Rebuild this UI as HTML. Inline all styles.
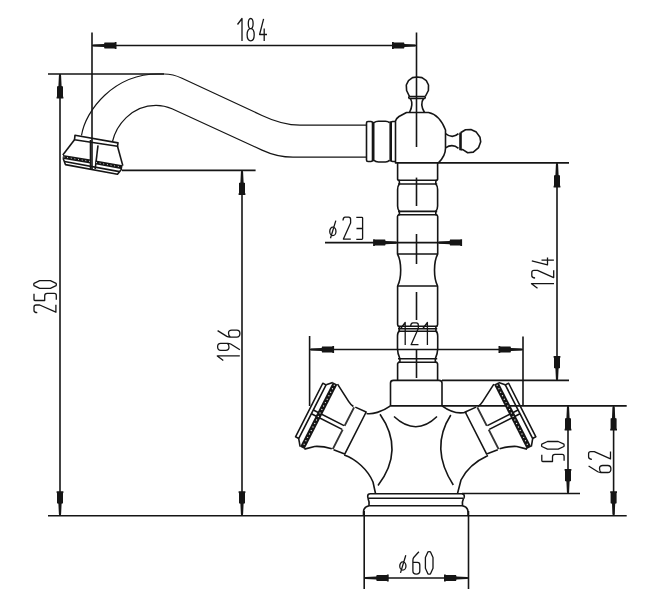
<!DOCTYPE html><html><head><meta charset="utf-8"><style>html,body{margin:0;padding:0;background:#fff;overflow:hidden;font-family:"Liberation Sans",sans-serif}svg{display:block}</style></head><body>
<svg width="659" height="600" viewBox="0 0 659 600">
<rect width="659" height="600" fill="#fff"/>
<g fill="none" stroke="#151515" stroke-width="1.6" stroke-linecap="butt" stroke-linejoin="round">
<path d="M92,45.5 H416.5"/>
<path d="M60,74 V515.8"/>
<path d="M242,170.4 V515.8"/>
<path d="M557,162.9 V380.4"/>
<path d="M325,242.6 H462"/>
<path d="M309.6,349.5 H523"/>
<path d="M568,405.9 V493.5"/>
<path d="M613.6,405.9 V515.8"/>
<path d="M364.2,578 H468.5"/>
<path d="M92,32.5 V170"/>
<path d="M48,74 H164"/>
<path d="M48,515.8 H626.7"/>
<path d="M122,170.4 H255.6"/>
<path d="M438.4,162.9 H569"/>
<path d="M442,380.4 H569"/>
<path d="M309.6,336 V406"/>
<path d="M523,336.4 V405"/>
<path d="M390.5,405.9 H626.7"/>
<path d="M462,493.5 H580"/>
<path d="M364.2,511 V589"/>
<path d="M468.5,511 V589"/>
<path d="M416.5,32.5 V147"/>
<path d="M416.5,177.6 V206"/>
<path d="M416.5,234 V264"/>
<path d="M416.5,292 V320"/>
<path d="M416.5,350 V378"/>
<g stroke-width="1.2"><path d="M81.5,135.5 C85.5,110 114,74 158,74 L164,74 Q173,74 182,78.2 L262,115.5 Q282.5,125.2 300,125.2 L366.5,125.2"/><path d="M112.5,141.5 C116,126 131,105.3 156,105.3 Q164.3,105.3 172,108.8 L262,150.1 Q277.4,157.2 293,157.2 L366.5,157.2"/></g>
<path d="M409.5,96.5 L406.6,90.5 L406.3,85 L408.5,80.6 L412.5,77.6 L417,77 L422,77.6 L426.3,80.6 L428.5,85 L428.4,90.5 L425.3,96.5"/>
<path d="M408.8,96.5 H425.2 M408.8,98.5 H425.2 M408.8,96.5 V98.5 M425.2,96.5 V98.5"/>
<path d="M410.5,98.5 Q413.6,104.5 409.5,112.5"/>
<path d="M423.5,98.5 Q419.6,104.5 424.5,112.5"/>
<path d="M395.5,162.9 V121 Q396,118.5 399,116.5 L406.5,112.5 H428.5 C436,114 442,121 445.5,130 V148.3 Q445.5,156 438.4,162.9 Z"/>
<path d="M445.5,133.7 Q452.5,139.1 458.5,133.7"/>
<path d="M445.5,147.8 Q452.5,143.2 458.5,148.3"/>
<path d="M460.5,132.8 L465.5,129.8 L470.9,129.6 L476.3,132.1 L480,137.3 L480.7,141.8 L478.6,147.6 L473.3,152.1 L467.7,152.7 L462.8,149.6 L460.5,149.8"/>
<path d="M368,121.5 H371 Q372.5,121.5 372.5,123 V160 Q372.5,161.5 371,161.5 H368 Q366.5,161.5 366.5,160 V123 Q366.5,121.5 368,121.5Z"/>
<path d="M374,122.8 Q375.5,121.3 378.5,121.3 H385.5 Q388,121.3 389.5,122.8"/>
<path d="M374,160.3 Q375.5,162 378.5,162 H385.5 Q388,162 389.5,160.3"/>
<path d="M392.5,121.5 H395.5 M392.5,161.5 H395.5 M392.5,121.5 Q391.2,121.5 391.2,123 V160 Q391.2,161.5 392.5,161.5"/>
<path d="M366.5,413.5 C372,414.5 382,412 390.5,405.9"/>
<path d="M442,405.9 C449,411 458,414.5 466.5,412"/>
<path d="M380,414.2 Q405,450 378,485.5"/>
<path d="M450.8,415 Q429.5,448 453.3,485"/>
<path d="M394,416.5 Q416,437 437,416.5"/>
<path d="M344.2,455 C356,459 368,470 373,482 L375.5,493.5"/>
<path d="M488,455.5 C476,461 466,470 461,480 L457.5,493.5"/>
<path d="M370.3,493.7 H461.5 Q464.3,493.7 464.3,496 Q464.3,498.3 463.5,498.3 M370.3,493.7 Q367.7,493.7 367.7,496 Q367.7,498.3 368.5,498.3"/>
<path d="M368,498.3 H463.5"/>
<path d="M368,498.3 Q369.5,501.5 369,505.7 H462.5 Q462,501.5 463.5,498.3"/>
<path d="M369,505.7 Q363.5,507 363.5,512 V516"/>
<path d="M462.5,505.7 Q468,507 468,512 V516"/>
<g stroke-width="1.6"><path d="M75,135.2 L118,142.9 L117.5,146.3 L74.5,139.8 Z"/><path d="M74.5,139.8 L62.8,155"/><path d="M117.5,146.3 L122.8,165.6"/><path d="M63.3,158.8 L65.4,164.6 L117.5,174.2 L121.7,169"/><path d="M64.5,161.5 L119.5,171.6"/><path d="M90.5,140 V169.5"/><path d="M98,145.3 L95.2,169"/></g>
<path d="M62.8,156.9 L90.5,161.5 M95.5,162.4 L122.3,167.3" stroke-width="4"/>
<path d="M63.5,156.9 L90,161.4 M96,162.5 L121.5,167.1" stroke="#fff" stroke-width="0.9" stroke-dasharray="0.9 2.8"/>
<path d="M397.6,162.9 V179 Q397.5,180.3 399,180.3 Q399.6,182 399.4,184 Q397.6,186 397.6,189.5 V206 Q397.6,209.5 399.4,211.4 V214.8 Q397.5,215 397.5,216.5 V254 Q400.7,260 400.7,270 Q400.7,280 397.6,286 V324.5 Q397.6,326.2 399.3,326.8 V331.2 Q397.5,332.2 397.5,336 V349 Q397.5,353 399.9,358.8 V362.3 Q397.6,362.3 397.6,364 V380.4"/>
<path d="M397.6,162.9 V179 Q397.5,180.3 399,180.3 Q399.6,182 399.4,184 Q397.6,186 397.6,189.5 V206 Q397.6,209.5 399.4,211.4 V214.8 Q397.5,215 397.5,216.5 V254 Q400.7,260 400.7,270 Q400.7,280 397.6,286 V324.5 Q397.6,326.2 399.3,326.8 V331.2 Q397.5,332.2 397.5,336 V349 Q397.5,353 399.9,358.8 V362.3 Q397.6,362.3 397.6,364 V380.4" transform="translate(835.2,0) scale(-1,1)"/>
<path d="M398,180.3 H437.2"/>
<path d="M398,184 H437.2"/>
<path d="M398,211.4 H437.2"/>
<path d="M398,214.8 H437.2"/>
<path d="M398,254 H437.2"/>
<path d="M398,286 H437.2"/>
<path d="M398,326.2 H437.2"/>
<path d="M398,328.8 H437.2"/>
<path d="M398,331.2 H437.2"/>
<path d="M398,358.8 H437.2"/>
<path d="M398,362.3 H437.2"/>
<path d="M390.5,405.9 V383 Q390.5,380.4 393.5,380.4 H439 Q442,380.4 442,383 V405.9"/>
<g transform="translate(310,411) rotate(27)"><path d="M-1.2,-30.5 H2.5 V29.5 H-1.2 Z"/><path d="M2.5,-30.8 L7.4,-35.7"/><path d="M2.5,29.8 L7.4,36.3"/><path d="M12.3,-36.5 L30.3,-25.9 Q33.5,-24 36.6,-23.7"/><path d="M12.3,36.5 L20.2,29.5 Q27,25.5 36.6,23.8"/><path d="M38.6,-24 L50.5,-24.6 V22.6 L38.6,23.8"/><path d="M2.5,-2.4 H37 M2.5,1.8 H37"/><path d="M9.9,-36 V36.3" stroke-width="5"/><path d="M9.9,-34.5 V35" stroke="#fff" stroke-width="1.1" stroke-dasharray="1.1 2.8"/><path d="M37.6,-23.3 V-2.4 M37.6,1.8 V23.6" stroke="#333" stroke-width="1.9"/></g>
<g transform="translate(831.4,0) scale(-1,1) translate(310,411) rotate(27)"><path d="M-1.2,-30.5 H2.5 V29.5 H-1.2 Z"/><path d="M2.5,-30.8 L7.4,-35.7"/><path d="M2.5,29.8 L7.4,36.3"/><path d="M12.3,-36.5 L30.3,-25.9 Q33.5,-24 36.6,-23.7"/><path d="M12.3,36.5 L20.2,29.5 Q27,25.5 36.6,23.8"/><path d="M38.6,-24 L50.5,-24.6 V22.6 L38.6,23.8"/><path d="M2.5,-2.4 H37 M2.5,1.8 H37"/><path d="M9.9,-36 V36.3" stroke-width="5"/><path d="M9.9,-34.5 V35" stroke="#fff" stroke-width="1.1" stroke-dasharray="1.1 2.8"/><path d="M37.6,-23.3 V-2.4 M37.6,1.8 V23.6" stroke="#333" stroke-width="1.9"/></g>
<g stroke-width="1.3">
<path d="M0.5,6 L5,0 V22.5" transform="translate(237,18.5)"/><path d="M3.6,0 C5.1,0 6,1.5 6,5.1 C6,8.7 5.1,10.2 3.6,10.2 C2.1,10.2 1.2,8.7 1.2,5.1 C1.2,1.5 2.1,0 3.6,0Z M3.6,10.2 C5.6,10.2 7.1,12 7.1,16.3 C7.1,20.6 5.6,22.3 3.6,22.3 C1.6,22.3 0,20.6 0,16.3 C0,12 1.6,10.2 3.6,10.2Z" transform="translate(247.1,18.5)"/><path d="M4.6,0.3 L0.6,16 H8 M5.2,10 V22.4" transform="translate(259,18.5)"/>
<path d="M0.65,14.5 A3.1,4.2 0 1 0 6.85,14.5 A3.1,4.2 0 1 0 0.65,14.5Z M6.7,3.7 L1.4,21.4" transform="translate(329.1,216.9)"/><path d="M0.4,3.6 Q0.5,0.3 2.6,0.3 H6 Q8,0.3 8,2.5 V6 L0.8,22.2 H8.2" transform="translate(342.6,216.9)"/><path d="M0.3,0.4 H5.8 Q6.6,0.4 6.6,1.2 V21.6 Q6.6,22.4 5.8,22.4 H0.3 M0.5,11.6 H6.6" transform="translate(356,216.9)"/>
<path d="M0.65,14.5 A3.1,4.2 0 1 0 6.85,14.5 A3.1,4.2 0 1 0 0.65,14.5Z M6.7,3.7 L1.4,21.4" transform="translate(399.1,551.5)"/><path d="M6.5,0.3 L1.3,6 Q0.5,7 0.5,9 V19.5 Q0.5,22.6 3.9,22.6 Q7.4,22.6 7.4,19.5 V13.5 Q7.4,10.9 5,10.9 H0.5" transform="translate(412.4,551.5)"/><path d="M2.6,0.3 Q3.8,-0.2 5,0.3 L7.6,6 V16.7 L5,22.4 Q3.8,22.9 2.6,22.4 L0,16.7 V6 Z" transform="translate(425.4,551.5)"/>
<path d="M0.5,6 L5,0 V22.5" transform="translate(400.2,322.5)"/><path d="M0.4,3.6 Q0.5,0.3 2.6,0.3 H6 Q8,0.3 8,2.5 V6 L0.8,22.2 H8.2" transform="translate(410.3,322.5)"/><path d="M0.5,6 L5,0 V22.5" transform="translate(422.4,322.5)"/>
<g transform="translate(33.7,313) rotate(-90)"><path d="M0.4,3.6 Q0.5,0.3 2.6,0.3 H6 Q8,0.3 8,2.5 V6 L0.8,22.2 H8.2" transform="translate(0,0)"/><path d="M7.3,0.3 H1.4 Q0.5,0.3 0.5,1.2 V11 H5.2 Q7.6,11 7.6,13.5 V20.6 Q7.6,22.6 5.6,22.6 H1.3" transform="translate(12,0)"/><path d="M2.6,0.3 Q3.8,-0.2 5,0.3 L7.6,6 V16.7 L5,22.4 Q3.8,22.9 2.6,22.4 L0,16.7 V6 Z" transform="translate(24.7,0)"/></g>
<g transform="translate(217.3,360.9) rotate(-90)"><path d="M0.5,6 L5,0 V22.5" transform="translate(0,0)"/><path d="M7,0.3 L1.2,9.5 Q0.5,10.8 0.5,12.5 V19.5 Q0.5,22.6 4,22.6 Q7.5,22.6 7.5,19.5 V14.5 Q7.5,11.2 4.5,11.2 Q1.5,11.2 0.7,13" transform="translate(10.1,0) rotate(180 4 11.45)"/><path d="M7,0.3 L1.2,9.5 Q0.5,10.8 0.5,12.5 V19.5 Q0.5,22.6 4,22.6 Q7.5,22.6 7.5,19.5 V14.5 Q7.5,11.2 4.5,11.2 Q1.5,11.2 0.7,13" transform="translate(23.3,0)"/></g>
<g transform="translate(531.5,288.7) rotate(-90)"><path d="M0.5,6 L5,0 V22.5" transform="translate(0,0)"/><path d="M0.4,3.6 Q0.5,0.3 2.6,0.3 H6 Q8,0.3 8,2.5 V6 L0.8,22.2 H8.2" transform="translate(10.3,0)"/><path d="M4.6,0.3 L0.6,16 H8 M5.2,10 V22.4" transform="translate(23.3,0)"/></g>
<g transform="translate(541.5,462) rotate(-90)"><path d="M7.3,0.3 H1.4 Q0.5,0.3 0.5,1.2 V11 H5.2 Q7.6,11 7.6,13.5 V20.6 Q7.6,22.6 5.6,22.6 H1.3" transform="translate(0,0)"/><path d="M2.6,0.3 Q3.8,-0.2 5,0.3 L7.6,6 V16.7 L5,22.4 Q3.8,22.9 2.6,22.4 L0,16.7 V6 Z" transform="translate(12.9,0)"/></g>
<g transform="translate(588.3,473) rotate(-90)"><path d="M7,0.3 L1.2,9.5 Q0.5,10.8 0.5,12.5 V19.5 Q0.5,22.6 4,22.6 Q7.5,22.6 7.5,19.5 V14.5 Q7.5,11.2 4.5,11.2 Q1.5,11.2 0.7,13" transform="translate(0,0)"/><path d="M0.4,3.6 Q0.5,0.3 2.6,0.3 H6 Q8,0.3 8,2.5 V6 L0.8,22.2 H8.2" transform="translate(13.3,0)"/></g>
</g>
</g>
<g fill="#151515" stroke="none">
<path d="M0,0 L1.5,-1.1 L12,-1.6 L12.5,-3 L22.5,-3 L23,-3.4 L24.5,-3.4 L24.5,3.4 L23,3.4 L22.5,3 L12.5,3 L12,1.6 L1.5,1.1 Z" transform="translate(92,45.5) rotate(0)"/>
<path d="M0,0 L1.5,-1.1 L12,-1.6 L12.5,-3 L22.5,-3 L23,-3.4 L24.5,-3.4 L24.5,3.4 L23,3.4 L22.5,3 L12.5,3 L12,1.6 L1.5,1.1 Z" transform="translate(416.5,45.5) rotate(180)"/>
<path d="M0,0 L1.5,-1.1 L12,-1.6 L12.5,-3 L22.5,-3 L23,-3.4 L24.5,-3.4 L24.5,3.4 L23,3.4 L22.5,3 L12.5,3 L12,1.6 L1.5,1.1 Z" transform="translate(60,74) rotate(90)"/>
<path d="M0,0 L1.5,-1.1 L12,-1.6 L12.5,-3 L22.5,-3 L23,-3.4 L24.5,-3.4 L24.5,3.4 L23,3.4 L22.5,3 L12.5,3 L12,1.6 L1.5,1.1 Z" transform="translate(60,515.8) rotate(-90)"/>
<path d="M0,0 L1.5,-1.1 L12,-1.6 L12.5,-3 L22.5,-3 L23,-3.4 L24.5,-3.4 L24.5,3.4 L23,3.4 L22.5,3 L12.5,3 L12,1.6 L1.5,1.1 Z" transform="translate(242,170.4) rotate(90)"/>
<path d="M0,0 L1.5,-1.1 L12,-1.6 L12.5,-3 L22.5,-3 L23,-3.4 L24.5,-3.4 L24.5,3.4 L23,3.4 L22.5,3 L12.5,3 L12,1.6 L1.5,1.1 Z" transform="translate(242,515.8) rotate(-90)"/>
<path d="M0,0 L1.5,-1.1 L12,-1.6 L12.5,-3 L22.5,-3 L23,-3.4 L24.5,-3.4 L24.5,3.4 L23,3.4 L22.5,3 L12.5,3 L12,1.6 L1.5,1.1 Z" transform="translate(557,162.9) rotate(90)"/>
<path d="M0,0 L1.5,-1.1 L12,-1.6 L12.5,-3 L22.5,-3 L23,-3.4 L24.5,-3.4 L24.5,3.4 L23,3.4 L22.5,3 L12.5,3 L12,1.6 L1.5,1.1 Z" transform="translate(557,380.4) rotate(-90)"/>
<path d="M0,0 L1.5,-1.1 L12,-1.6 L12.5,-3 L22.5,-3 L23,-3.4 L24.5,-3.4 L24.5,3.4 L23,3.4 L22.5,3 L12.5,3 L12,1.6 L1.5,1.1 Z" transform="translate(397.6,242.6) rotate(180)"/>
<path d="M0,0 L1.5,-1.1 L12,-1.6 L12.5,-3 L22.5,-3 L23,-3.4 L24.5,-3.4 L24.5,3.4 L23,3.4 L22.5,3 L12.5,3 L12,1.6 L1.5,1.1 Z" transform="translate(437.6,242.6) rotate(0)"/>
<path d="M0,0 L1.5,-1.1 L12,-1.6 L12.5,-3 L22.5,-3 L23,-3.4 L24.5,-3.4 L24.5,3.4 L23,3.4 L22.5,3 L12.5,3 L12,1.6 L1.5,1.1 Z" transform="translate(309.6,349.5) rotate(0)"/>
<path d="M0,0 L1.5,-1.1 L12,-1.6 L12.5,-3 L22.5,-3 L23,-3.4 L24.5,-3.4 L24.5,3.4 L23,3.4 L22.5,3 L12.5,3 L12,1.6 L1.5,1.1 Z" transform="translate(523,349.5) rotate(180)"/>
<path d="M0,0 L1.5,-1.1 L12,-1.6 L12.5,-3 L22.5,-3 L23,-3.4 L24.5,-3.4 L24.5,3.4 L23,3.4 L22.5,3 L12.5,3 L12,1.6 L1.5,1.1 Z" transform="translate(568,405.9) rotate(90)"/>
<path d="M0,0 L1.5,-1.1 L12,-1.6 L12.5,-3 L22.5,-3 L23,-3.4 L24.5,-3.4 L24.5,3.4 L23,3.4 L22.5,3 L12.5,3 L12,1.6 L1.5,1.1 Z" transform="translate(568,493.4) rotate(-90)"/>
<path d="M0,0 L1.5,-1.1 L12,-1.6 L12.5,-3 L22.5,-3 L23,-3.4 L24.5,-3.4 L24.5,3.4 L23,3.4 L22.5,3 L12.5,3 L12,1.6 L1.5,1.1 Z" transform="translate(613.6,405.9) rotate(90)"/>
<path d="M0,0 L1.5,-1.1 L12,-1.6 L12.5,-3 L22.5,-3 L23,-3.4 L24.5,-3.4 L24.5,3.4 L23,3.4 L22.5,3 L12.5,3 L12,1.6 L1.5,1.1 Z" transform="translate(613.6,515.8) rotate(-90)"/>
<path d="M0,0 L1.5,-1.1 L12,-1.6 L12.5,-3 L22.5,-3 L23,-3.4 L24.5,-3.4 L24.5,3.4 L23,3.4 L22.5,3 L12.5,3 L12,1.6 L1.5,1.1 Z" transform="translate(364.2,578) rotate(0)"/>
<path d="M0,0 L1.5,-1.1 L12,-1.6 L12.5,-3 L22.5,-3 L23,-3.4 L24.5,-3.4 L24.5,3.4 L23,3.4 L22.5,3 L12.5,3 L12,1.6 L1.5,1.1 Z" transform="translate(468.5,578) rotate(180)"/>
<rect x="459.2" y="132.6" width="2.6" height="17.6"/>
<rect x="372.6" y="121.8" width="1.9" height="39.5"/>
<rect x="389.4" y="121.3" width="1.9" height="40.2"/>
</g>
</svg></body></html>
